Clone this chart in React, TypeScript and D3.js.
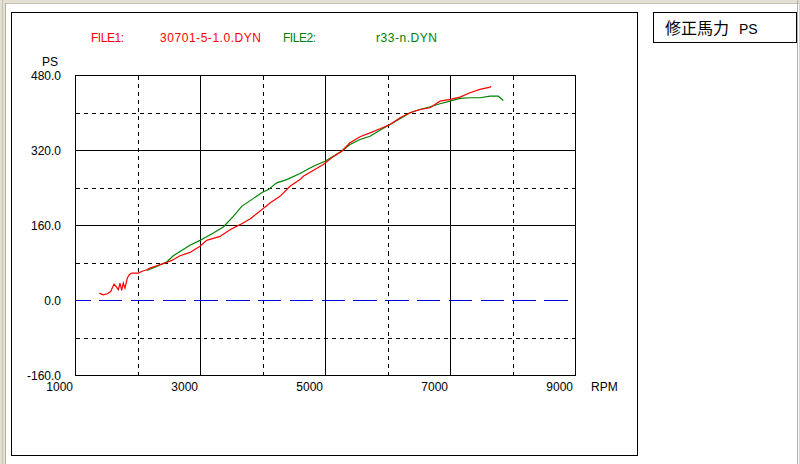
import React from "react";
import * as d3 from "d3";

const redRpm = [1381, 1445, 1509, 1563, 1616, 1648, 1685, 1712, 1739, 1765, 1792, 1829, 1861, 1899, 1952, 2005, 2059, 2139, 2192, 2299, 2459, 2539, 2672, 2832, 2992, 3099, 3312, 3472, 3632, 3792, 3979, 4112, 4272, 4432, 4592, 4645, 4965, 5099, 5259, 5392, 5552, 5712, 5872, 6032, 6192, 6352, 6512, 6672, 6832, 6992, 7152, 7312, 7472, 7632, 7648];
const redPs = [15.8, 12.2, 14.3, 19.2, 35.0, 29.9, 22.9, 37.2, 21.4, 37.2, 26.5, 47.9, 54.9, 58.6, 58.6, 58.6, 62.0, 65.6, 69.2, 74.2, 81.2, 85.5, 95.5, 102.6, 115.8, 128.2, 136.8, 151.1, 161.8, 174.0, 193.8, 208.1, 222.2, 243.6, 257.9, 265.0, 290.0, 304.3, 318.4, 336.4, 349.2, 357.7, 366.3, 375.5, 390.0, 400.5, 407.5, 411.2, 425.3, 428.9, 433.8, 443.2, 450.3, 455.2, 457.0];

const greenRpm = [2139, 2299, 2459, 2565, 2672, 2832, 2992, 3205, 3365, 3525, 3659, 3819, 3979, 4085, 4219, 4379, 4592, 4805, 4992, 5125, 5259, 5392, 5552, 5712, 5872, 6032, 6192, 6352, 6512, 6672, 6832, 6992, 7152, 7312, 7472, 7632, 7765, 7845];
const greenPs = [64.1, 72.7, 82.1, 95.5, 104.7, 118.0, 128.2, 144.0, 156.9, 179.5, 200.9, 215.2, 230.0, 236.6, 250.9, 257.9, 270.8, 286.4, 297.0, 307.7, 318.4, 332.7, 343.4, 350.5, 363.3, 375.5, 387.6, 400.5, 407.5, 413.3, 419.7, 425.3, 431.0, 432.5, 432.5, 435.9, 435.9, 426.8];

const xTicks = [1000, 3000, 5000, 7000, 9000];
const xSolid = [3000, 5000, 7000];
const xDashed = [2000, 4000, 6000, 8000];
const yTicks = [480, 320, 160, 0, -160];
const ySolid = [320, 160];
const yDashed = [400, 240, 80, -80];

const file1Label = "FILE1:";
const file1Name = "30701-5-1.0.DYN";
const file2Label = "FILE2:";
const file2Name = "r33-n.DYN";
const titleCjk = "修正馬力";
const titleUnit = "PS";

const FONT = "'Liberation Sans', Arial, sans-serif";

export default function App() {
  const x = d3.scaleLinear().domain([1000, 9000]).range([75.5, 575.5]);
  const y = d3.scaleLinear().domain([-160, 480]).range([375.5, 75.5]);
  const px = (v: number) => Math.round(x(v) - 0.5) + 0.5;
  const py = (v: number) => Math.round(y(v) - 0.5) + 0.5;

  const line = d3
    .line<[number, number]>()
    .x((d) => x(d[0]))
    .y((d) => y(d[1]));

  const redData: [number, number][] = redRpm.map((r, i) => [r, redPs[i]]);
  const greenData: [number, number][] = greenRpm.map((r, i) => [r, greenPs[i]]);

  return (
    <div style={{ position: "fixed", left: 0, top: 0, width: 800, height: 464, background: "#fff" }}>
      <svg width={800} height={464} style={{ display: "block" }}>
        <rect x={0} y={0} width={800} height={464} fill="#ffffff" />
        {/* window frame */}
        <rect x={0} y={0} width={800} height={3} fill="#e4e1d4" />
        <line x1={6} x2={800} y1={3.5} y2={3.5} stroke="#c8c4b2" />
        <rect x={0} y={0} width={6} height={464} fill="#e4e1d4" />
        <line x1={2.5} x2={2.5} y1={0} y2={464} stroke="#c8c4b2" />
        <line x1={5.5} x2={5.5} y1={3} y2={464} stroke="#b4b09c" />
        <line x1={797.5} x2={797.5} y1={0} y2={464} stroke="#b0b0b0" />
        <line x1={799.5} x2={799.5} y1={0} y2={464} stroke="#d8d5c8" />

        {/* outer panel */}
        <rect x={11.5} y={12.5} width={626} height={443} fill="none" stroke="#000" />

        {/* title box */}
        <rect x={653.5} y={12.5} width={143} height={30} fill="#fff" stroke="#000" />
        <text x={665} y={34} fontFamily="'Noto Sans CJK JP', sans-serif" fontSize={16} fill="#000">
          {titleCjk}
        </text>
        <text x={739} y={33.5} fontFamily={FONT} fontSize={14} fill="#000">
          {titleUnit}
        </text>

        {/* file labels */}
        <text x={91} y={42} fontFamily={FONT} fontSize={12} fill="#ff0000" textLength={33} lengthAdjust="spacing">{file1Label}</text>
        <text x={160} y={42} fontFamily={FONT} fontSize={12} fill="#ff0000" textLength={101} lengthAdjust="spacing">{file1Name}</text>
        <text x={283} y={42} fontFamily={FONT} fontSize={12} fill="#008000" textLength={33} lengthAdjust="spacing">{file2Label}</text>
        <text x={376} y={42} fontFamily={FONT} fontSize={12} fill="#008000" textLength={61} lengthAdjust="spacing">{file2Name}</text>

        {/* grid */}
        <g shapeRendering="crispEdges">
          {xDashed.map((v) => (
            <line key={"xd" + v} x1={px(v)} x2={px(v)} y1={y(480)} y2={y(-160)} stroke="#000" strokeDasharray="4,4" />
          ))}
          {yDashed.map((v) => (
            <line key={"yd" + v} x1={x(1000)} x2={x(9000)} y1={py(v)} y2={py(v)} stroke="#000" strokeDasharray="4,4" />
          ))}
          {xSolid.map((v) => (
            <line key={"xs" + v} x1={px(v)} x2={px(v)} y1={y(480)} y2={y(-160)} stroke="#000" />
          ))}
          {ySolid.map((v) => (
            <line key={"ys" + v} x1={x(1000)} x2={x(9000)} y1={py(v)} y2={py(v)} stroke="#000" />
          ))}
          <line x1={x(1000)} x2={x(9000)} y1={py(0)} y2={py(0)} stroke="#0000e0" strokeWidth={1.5} strokeDasharray="23.5,8.3" strokeDashoffset={8.4} />
          <rect x={x(1000)} y={y(480)} width={x(9000) - x(1000)} height={y(-160) - y(480)} fill="none" stroke="#000" />
        </g>

        {/* curves */}
        <path d={line(greenData) || ""} fill="none" stroke="#008000" strokeWidth={1.2} />
        <path d={line(redData) || ""} fill="none" stroke="#ff0000" strokeWidth={1.2} />

        {/* y axis labels */}
        <text x={58} y={66} textAnchor="end" fontFamily={FONT} fontSize={12} fill="#000">PS</text>
        {yTicks.map((v) => (
          <text key={"yl" + v} x={61} y={y(v) + 4} textAnchor="end" fontFamily={FONT} fontSize={12} fill="#000">
            {v.toFixed(1)}
          </text>
        ))}

        {/* x axis labels */}
        {xTicks.map((v) => (
          <text key={"xl" + v} x={x(v) - 2.5} y={391} textAnchor="end" fontFamily={FONT} fontSize={12} fill="#000">
            {v}
          </text>
        ))}
        <text x={591} y={391} fontFamily={FONT} fontSize={12} fill="#000">RPM</text>
      </svg>
    </div>
  );
}
